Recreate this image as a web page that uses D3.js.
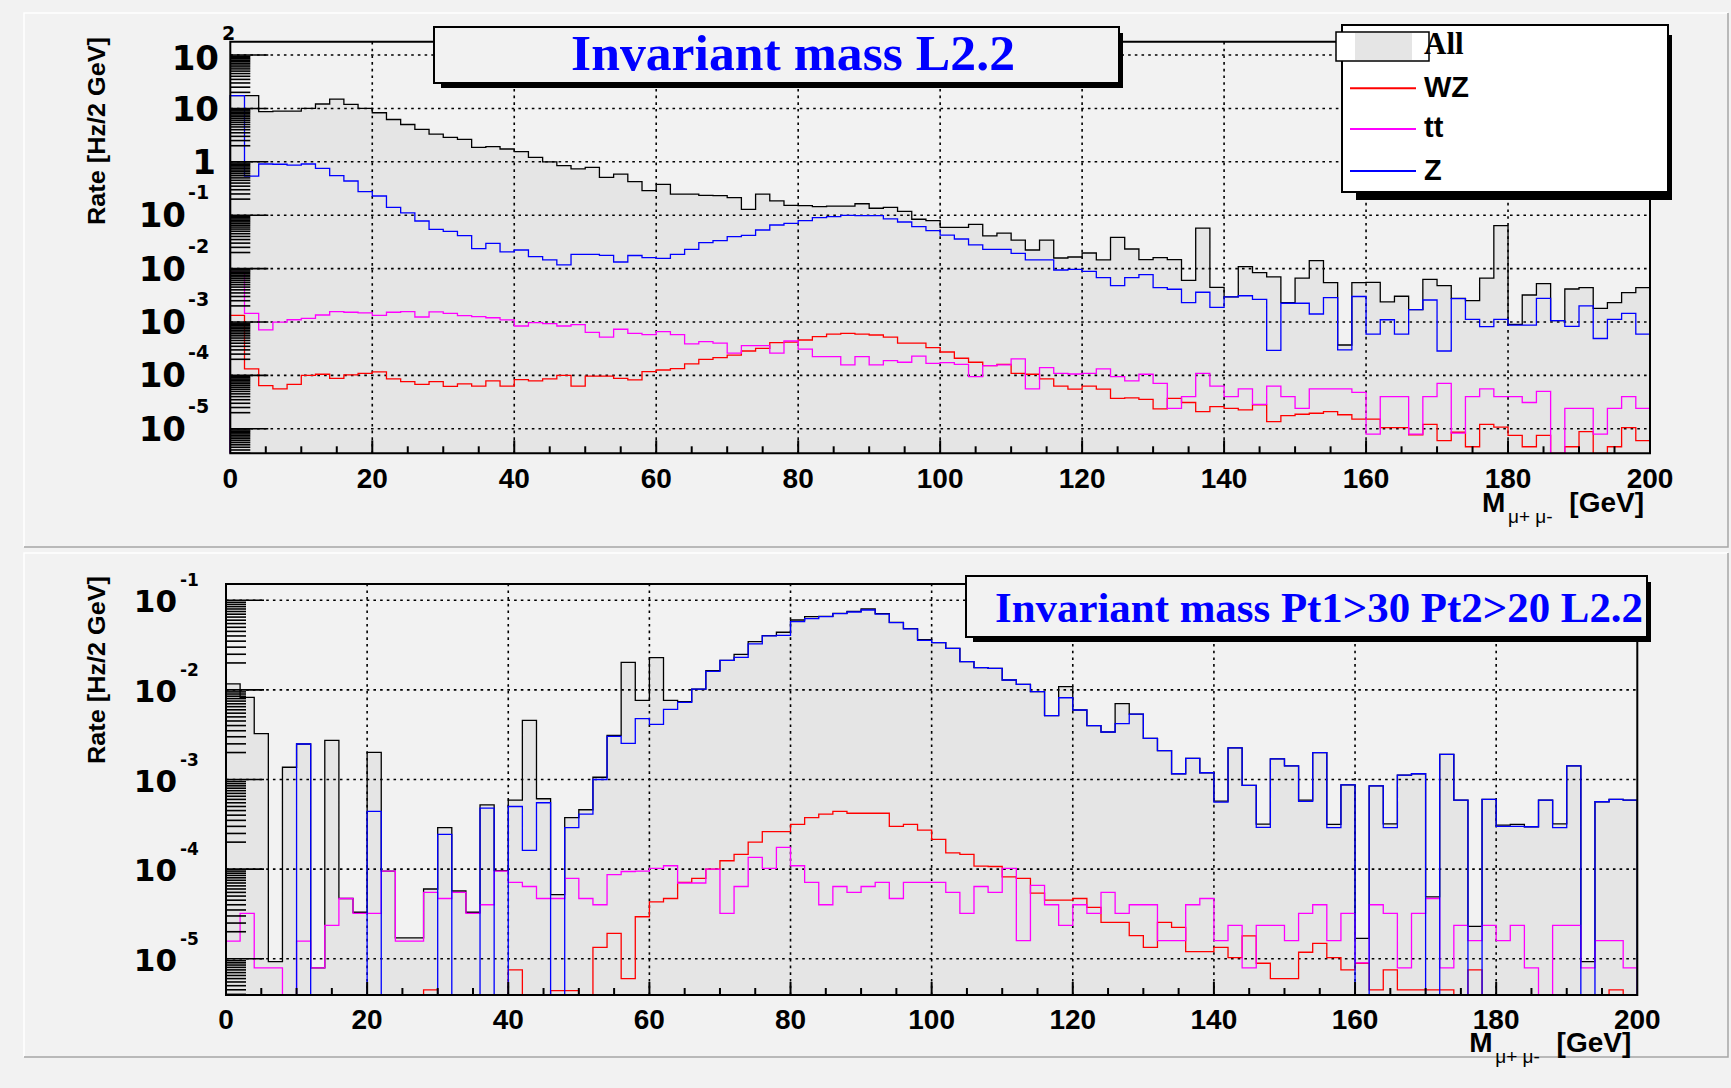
<!DOCTYPE html>
<html><head><meta charset="utf-8">
<script src="https://cdn.jsdelivr.net/npm/d3@7"></script>
<style>body{margin:0;background:#f2f2f2;}svg{display:block}</style>
</head><body><svg id="c" width="1731" height="1088"></svg>
<script>
// ---------- data ----------
const binLow = d3.range(0, 200, 2);              // lower edge of each 2 GeV bin
const xTickVals = [0,20,40,60,80,100,120,140,160,180,200];
const topDecades = [-5,-4,-3,-2,-1,0,1,2];
const botDecades = [-5,-4,-3,-2,-1];
const legendNames = ["All","WZ","tt","Z"];
const seriesColors = {All:"#000000", WZ:"#ff0000", tt:"#ff00ff", Z:"#0000ff"};
const topTitle = "Invariant mass L2.2";
const botTitle = "Invariant mass Pt1>30 Pt2>20 L2.2";
const yTitle = "Rate [Hz/2 GeV]";

const topAll = [17.3,17.3,8.7,8.9,8.9,10.0,12.1,15.0,11.9,10.0,8.3,6.2,5.0,4.06,3.3,2.87,2.64,1.87,1.92,1.74,1.55,1.21,1.0,0.85,0.74,
 0.79,0.51,0.59,0.425,0.288,0.378,0.249,0.249,0.235,0.233,0.213,0.129,0.249,0.185,0.153,0.151,0.145,0.148,0.148,0.164,0.135,0.140,0.118,0.084,0.079,
 0.059,0.059,0.0675,0.041,0.046,0.034,0.0223,0.034,0.0158,0.0165,0.0196,0.0145,0.0385,0.0233,0.0147,0.016,0.0147,0.0060,0.0575,0.00446,0.00294,0.0109,0.0084,0.0070,0.0023,
 0.0066,0.0141,0.00546,0.00037,0.00546,0.0055,0.00237,0.00303,0.0017,0.0063,0.00479,0.00277,0.00251,0.0066,0.0637,0.0009,0.0032,0.00523,0.00106,0.00415,0.0044,0.0018,0.0023,0.00354,0.0044];
const topZ = [17.3,0.54,0.91,0.90,0.87,0.91,0.755,0.55,0.437,0.276,0.229,0.140,0.111,0.0778,0.0543,0.0496,0.0414,0.0236,0.0297,0.0205,0.0223,0.0167,0.0145,0.0117,0.0185,
 0.0185,0.0177,0.0133,0.0176,0.016,0.0155,0.0185,0.023,0.0306,0.0334,0.0396,0.042,0.0528,0.0655,0.070,0.079,0.090,0.094,0.0995,0.098,0.098,0.085,0.0746,0.061,0.0513,
 0.0425,0.0358,0.0277,0.023,0.023,0.0193,0.0145,0.0145,0.0094,0.0097,0.0089,0.00676,0.00479,0.00676,0.00769,0.0044,0.0041,0.0023,0.0036,0.00188,0.00294,0.0031,0.00265,0.000294,0.00224,
 0.00224,0.00141,0.00286,0.0003,0.003,0.00059,0.0011,0.00059,0.0017,0.00258,0.000286,0.00274,0.00112,0.00082,0.00112,0.00087,0.00087,0.00277,0.00106,0.00083,0.002,0.00049,0.00112,0.00145,0.00059];
const topTT = [0.0085,0.00145,0.00071,0.00099,0.0011,0.00117,0.00135,0.00156,0.00152,0.00148,0.00133,0.00152,0.00156,0.00124,0.00154,0.00145,0.00132,0.00126,0.0012,0.00109,0.00084,0.00097,0.00093,0.00084,0.00089,
 6.4e-4,5.2e-4,7.3e-4,6.1e-4,5.8e-4,6.6e-4,5.8e-4,3.9e-4,4.3e-4,4.0e-4,2.6e-4,3.6e-4,3.6e-4,2.6e-4,4.4e-4,3.1e-4,2.25e-4,2.25e-4,1.57e-4,2.25e-4,1.57e-4,1.89e-4,1.76e-4,2.3e-4,1.68e-4,
 1.73e-4,1.61e-4,9.5e-5,1.52e-4,1.57e-4,2.03e-4,5.6e-5,1.40e-4,1.09e-4,1.06e-4,1.09e-4,1.32e-4,9.5e-5,7.9e-5,1.05e-4,7.1e-5,2.4e-5,4.0e-5,1.09e-4,6.3e-5,4.0e-5,5.6e-5,2.87e-5,6.3e-5,4.0e-5,
 2.4e-5,5.6e-5,5.6e-5,5.6e-5,4.8e-5,7.9e-6,4.0e-5,4.0e-5,7.9e-6,4.0e-5,7.1e-5,8.3e-6,4.0e-5,5.6e-5,4.0e-5,4.0e-5,3.1e-5,5.0e-5,0,2.4e-5,2.4e-5,7.9e-6,2.4e-5,4.0e-5,2.4e-5];
const topWZ = [0.00133,1.32e-4,6.4e-5,5.6e-5,6.8e-5,1.0e-4,1.05e-4,8.8e-5,1.02e-4,1.09e-4,1.16e-4,8.6e-5,7.6e-5,6.8e-5,7.6e-5,6.2e-5,6.9e-5,6.3e-5,7.9e-5,6.3e-5,8.3e-5,7.9e-5,8.6e-5,1.0e-4,6.3e-5,
 9.7e-5,9.7e-5,8.8e-5,8.2e-5,1.17e-4,1.26e-4,1.34e-4,1.64e-4,2.0e-4,2.15e-4,2.4e-4,2.86e-4,3.2e-4,4.1e-4,4.2e-4,4.6e-4,5.3e-4,5.9e-4,6.1e-4,5.9e-4,5.7e-4,5.2e-4,4.0e-4,4.0e-4,3.3e-4,
 2.74e-4,2.09e-4,1.76e-4,1.52e-4,1.61e-4,1.09e-4,1.05e-4,8.6e-5,6.3e-5,5.5e-5,6.3e-5,5.5e-5,3.7e-5,3.8e-5,3.56e-5,2.35e-5,3.7e-5,3.1e-5,2.1e-5,2.6e-5,2.4e-5,2.25e-5,2.8e-5,1.36e-5,1.76e-5,
 1.87e-5,1.95e-5,2.1e-5,1.83e-5,1.52e-5,1.52e-5,1.05e-5,1.05e-5,7.7e-6,1.21e-5,6.0e-6,8.6e-6,4.6e-6,1.21e-5,1.07e-5,7.5e-6,4.6e-6,7.5e-6,0,4.6e-6,8.8e-6,0,4.6e-6,1.05e-5,6.0e-6];

const botAll = [0.01165,0.00826,0.00325,9.3e-6,0.00137,0.00249,7.9e-6,0.00274,4.7e-5,3.3e-5,0.00201,9.5e-5,1.71e-5,1.71e-5,6.0e-5,2.9e-4,5.7e-5,3.3e-5,5.2e-4,9.6e-5,5.9e-4,0.00457,6.1e-4,5.2e-5,3.75e-4,
 4.6e-4,1.06e-3,3.11e-3,0.0203,7.66e-3,0.0229,7.66e-3,7.4e-3,0.0102,0.0164,0.0214,0.0249,0.0346,0.0404,0.044,0.0603,0.0657,0.0663,0.0716,0.0754,0.080,0.071,0.0568,0.0483,0.0364,
 0.0337,0.0291,0.0207,0.0177,0.0174,0.0129,0.0115,0.00955,0.00516,0.01086,0.00597,0.00399,0.00339,0.00703,0.00538,0.00288,0.0021,0.00116,0.00172,0.00119,5.75e-4,0.00226,8.6e-4,3.18e-4,0.0017,
 0.00142,5.9e-4,0.002,3.16e-4,8.7e-4,1.69e-5,8.5e-4,3.2e-4,0.00112,0.00116,4.9e-5,0.00191,5.9e-4,2.3e-5,6.0e-4,3.1e-4,3.16e-4,2.97e-4,5.9e-4,3.2e-4,0.00142,9.3e-6,5.65e-4,6.0e-4,5.9e-4];
const botZ = [0,0,0,0,0,0.00249,0,0,0,0,4.4e-4,0,0,0,0,2.44e-4,0,0,4.8e-4,0,5.0e-4,1.62e-4,5.5e-4,0,2.9e-4,
 4.1e-4,1.0e-3,3.03e-3,2.53e-3,4.78e-3,4.13e-3,6.07e-3,7.26e-3,0.0102,0.0161,0.0214,0.0231,0.0326,0.040,0.0406,0.0578,0.0624,0.0657,0.071,0.074,0.078,0.070,0.0564,0.048,0.0357,
 0.0337,0.0291,0.0207,0.0177,0.0174,0.0129,0.0115,0.00955,0.00516,0.00818,0.00597,0.00399,0.00339,0.0042,0.00538,0.00288,0.0021,0.00116,0.00172,0.00119,5.6e-4,0.00226,8.6e-4,2.92e-4,0.0017,
 0.00142,5.7e-4,0.002,2.9e-4,8.7e-4,0,8.5e-4,2.9e-4,0.00112,0.00116,0,0.00191,5.9e-4,0,6.0e-4,3.0e-4,3.0e-4,2.97e-4,5.9e-4,2.9e-4,0.00142,0,5.65e-4,6.0e-4,5.9e-4];
const botTT = [1.57e-5,3.2e-5,7.9e-6,7.9e-6,0,1.57e-5,7.9e-6,2.35e-5,4.7e-5,3.2e-5,3.2e-5,9.5e-5,1.57e-5,1.57e-5,5.5e-5,4.7e-5,5.5e-5,3.2e-5,4.0e-5,9.5e-5,7.1e-5,6.4e-5,4.7e-5,4.7e-5,7.9e-5,
 4.7e-5,4.0e-5,8.7e-5,9.4e-5,9.5e-5,1.02e-4,1.09e-4,7.0e-5,7.0e-5,1.0e-4,3.2e-5,6.4e-5,1.35e-4,1.02e-4,1.75e-4,1.09e-4,7.1e-5,4.0e-5,6.4e-5,5.5e-5,6.4e-5,7.1e-5,4.7e-5,7.1e-5,7.1e-5,
 7.1e-5,5.5e-5,3.2e-5,6.4e-5,5.5e-5,1.02e-4,1.59e-5,6.6e-5,4.0e-5,2.35e-5,4.0e-5,3.2e-5,5.5e-5,3.2e-5,4.0e-5,4.0e-5,1.59e-5,1.59e-5,4.0e-5,4.7e-5,1.59e-5,2.35e-5,7.9e-6,2.35e-5,2.35e-5,
 1.59e-5,3.2e-5,4.0e-5,1.59e-5,3.2e-5,9.0e-6,4.0e-5,3.2e-5,7.9e-6,3.2e-5,4.7e-5,7.9e-6,2.35e-5,1.59e-5,2.35e-5,1.59e-5,2.35e-5,7.9e-6,0,2.35e-5,2.35e-5,7.9e-6,1.59e-5,1.59e-5,7.9e-6];
const botWZ = [0,0,0,0,0,0,0,0,0,0,0,0,0,0,4.5e-6,0,0,0,0,0,7.5e-6,0,0,4.4e-6,4.4e-6,
 0,1.34e-5,1.92e-5,6.0e-6,2.94e-5,4.3e-5,4.7e-5,7.1e-5,7.9e-5,1.0e-4,1.24e-4,1.46e-4,2.0e-4,2.62e-4,2.62e-4,3.16e-4,3.75e-4,4.1e-4,4.4e-4,4.2e-4,4.2e-4,4.2e-4,3.0e-4,3.16e-4,2.73e-4,
 2.15e-4,1.52e-4,1.46e-4,1.08e-4,1.07e-4,8.2e-5,7.9e-5,5.4e-5,4.5e-5,4.5e-5,4.7e-5,3.74e-5,2.55e-5,2.55e-5,1.81e-5,1.34e-5,2.55e-5,2.24e-5,1.2e-5,1.2e-5,1.34e-5,1.03e-5,1.8e-5,8.9e-6,6.0e-6,
 6.0e-6,1.18e-5,1.48e-5,1.03e-5,7.5e-6,8.9e-6,4.5e-6,7.5e-6,4.5e-6,4.5e-6,4.5e-6,4.5e-6,0,7.5e-6,0,0,0,0,0,0,0,0,0,4.5e-6,0];

// ---------- drawing ----------
const W = 1731, H = 1088;
const SANS = "'Liberation Sans', Arial, Helvetica, sans-serif";
const DEJA = "'DejaVu Sans', sans-serif";
const SERIF = "'Liberation Serif', 'Times New Roman', serif";
const FILL = "#e5e5e5", BG = "#f2f2f2";
const svg = d3.select("#c");
svg.append("rect").attr("width", W).attr("height", H).attr("fill", BG);

const panels = [
  { pad:[24,13,1704,534], x0:230.3, x1:1650, yTop:41.7, yBot:453.3, lo:-5.46, hi:2.25,
    decades: topDecades, series:{All:topAll, WZ:topWZ, tt:topTT, Z:topZ},
    lab:{font:34, expFont:19, posEnd:219, negEnd:186, expGap:2, expUp:16},
    xLabBase:488, yTitleX:105, xTitleBase:511.7, yTitleC:131,
    title:{text:topTitle, box:[434,27,685,56], tx:571, ty:70, size:51, len:444} },
  { pad:[24,553,1704,504], x0:226, x1:1637.3, yTop:584, yBot:995, lo:-5.405, hi:-0.818,
    decades: botDecades, series:{All:botAll, WZ:botWZ, tt:botTT, Z:botZ},
    lab:{font:31, expFont:17, posEnd:177, negEnd:177, expGap:3, expUp:14},
    xLabBase:1029, yTitleX:105, xTitleBase:1052, yTitleC:670,
    title:{text:botTitle, box:[966,576,681,61], tx:995, ty:622, size:42, len:648} }
];

panels.forEach((P, pi) => {
  const g = svg.append("g");
  const [px, py, pw, ph] = P.pad;
  g.append("rect").attr("x", px).attr("y", py).attr("width", pw).attr("height", ph).attr("fill", BG);
  g.append("path").attr("d", `M${px},${py+ph}V${py}H${px+pw}`).attr("fill","none").attr("stroke","#ffffff").attr("stroke-width",1.5);
  g.append("path").attr("d", `M${px},${py+ph}H${px+pw}V${py}`).attr("fill","none").attr("stroke","#a6a6a6").attr("stroke-width",1.5);

  const x = d3.scaleLinear().domain([0, 200]).range([P.x0, P.x1]);
  const yMin = Math.pow(10, P.lo), yMax = Math.pow(10, P.hi);
  const y = d3.scaleLog().domain([yMin, yMax]).range([P.yBot, P.yTop]);
  const Y = v => (v > yMin ? Math.max(P.yTop, y(v)) : P.yBot);

  // step outline points (closed to the bottom at both ends)
  const pts = vals => {
    const p = [[x(0), P.yBot]];
    vals.forEach((v, i) => { p.push([x(binLow[i]), Y(v)]); p.push([x(binLow[i] + 2), Y(v)]); });
    p.push([x(200), P.yBot]);
    return p;
  };
  const line = d3.line();

  // filled "All"
  g.append("path").attr("d", line(pts(P.series.All)) + "Z").attr("fill", FILL).attr("stroke", "none");

  // grid
  const grid = g.append("g").attr("stroke", "#000").attr("stroke-width", 1.6).attr("stroke-dasharray", "2.6,4.1");
  xTickVals.filter(v => v > 0 && v < 200).forEach(v =>
    grid.append("line").attr("x1", x(v)).attr("x2", x(v)).attr("y1", P.yBot).attr("y2", P.yTop));
  P.decades.forEach(e =>
    grid.append("line").attr("x1", P.x0).attr("x2", P.x1).attr("y1", y(Math.pow(10, e))).attr("y2", y(Math.pow(10, e))));

  // histogram lines
  ["All","WZ","tt","Z"].forEach(k => {
    g.append("path").attr("d", line(pts(P.series[k]))).attr("fill","none")
      .attr("stroke", seriesColors[k]).attr("stroke-width", 1.3).attr("stroke-linejoin","miter");
  });

  // frame / axes
  g.append("path").attr("d", `M${P.x0},${P.yBot}V${P.yTop}H${P.x1}V${P.yBot}Z`).attr("fill","none").attr("stroke","#000").attr("stroke-width",2);

  // x ticks
  d3.range(0, 201, 5).forEach(v => {
    const len = v % 20 === 0 ? 13 : 7;
    if (v === 0 || v === 200) return;
    g.append("line").attr("x1", x(v)).attr("x2", x(v)).attr("y1", P.yBot).attr("y2", P.yBot - len).attr("stroke","#000").attr("stroke-width",2);
  });
  xTickVals.forEach(v => g.append("text").attr("x", x(v)).attr("y", P.xLabBase).attr("text-anchor","middle")
    .attr("font-family", SANS).attr("font-weight","bold").attr("font-size",28).text(v));

  // y ticks (log)
  for (let e = Math.floor(P.lo); e <= Math.ceil(P.hi); e++) {
    [1,2,2.5,3,3.5,4,4.5,5,5.5,6,6.5,7,7.5,8,8.5,9,9.5].forEach(k => {
      const v = k * Math.pow(10, e);
      if (v < yMin || v > yMax) return;
      const len = k === 1 ? 38 : 20;
      g.append("line").attr("x1", P.x0).attr("x2", P.x0 + len).attr("y1", y(v)).attr("y2", y(v)).attr("stroke","#000").attr("stroke-width",1.6);
    });
  }
  // y labels
  P.decades.forEach(e => {
    const gy = y(Math.pow(10, e));
    const t = (tx, ty, s, size, anchor) => g.append("text").attr("x", tx).attr("y", ty).attr("text-anchor", anchor)
      .attr("font-family", DEJA).attr("font-weight","bold").attr("font-size", size).text(s);
    if (e === 0) { t(P.lab.posEnd - 3, gy + 12, "1", P.lab.font, "end"); }
    else if (e === 1) { t(P.lab.posEnd, gy + 13, "10", P.lab.font, "end"); }
    else if (e > 1) { t(P.lab.posEnd, gy + 15, "10", P.lab.font, "end"); t(P.lab.posEnd + 3, gy - 15, String(e), P.lab.expFont, "start"); }
    else { t(P.lab.negEnd, gy + 12, "10", P.lab.font, "end"); t(P.lab.negEnd + P.lab.expGap, gy - P.lab.expUp, String(e), P.lab.expFont, "start"); }
  });

  // axis titles
  g.append("text").attr("transform", `translate(${P.yTitleX},${P.yTitleC}) rotate(-90)`).attr("text-anchor","middle")
    .attr("font-family", SANS).attr("font-weight","bold").attr("font-size",24)
    .attr("textLength",188).attr("lengthAdjust","spacingAndGlyphs").text(yTitle);
  g.append("text").attr("x", P.x1 - 168).attr("y", P.xTitleBase).attr("font-family", SANS).attr("font-weight","bold").attr("font-size",28).text("M");
  g.append("text").attr("x", P.x1 - 142).attr("y", P.xTitleBase + 11).attr("font-family", SANS).attr("font-size",19).text("\u03bc+ \u03bc-");
  g.append("text").attr("x", P.x1 - 6).attr("y", P.xTitleBase).attr("text-anchor","end").attr("font-family", SANS).attr("font-weight","bold").attr("font-size",28).text("[GeV]");

  // title box
  const [bx, by, bw, bh] = P.title.box;
  g.append("rect").attr("x", bx + 7).attr("y", by + 6).attr("width", bw - 3).attr("height", bh - 1).attr("fill", "#000");
  g.append("rect").attr("x", bx).attr("y", by).attr("width", bw).attr("height", bh).attr("fill", BG).attr("stroke","#000").attr("stroke-width",2);
  g.append("text").attr("x", P.title.tx).attr("y", P.title.ty).attr("font-family", SERIF).attr("font-weight","bold")
    .attr("font-size", P.title.size).attr("fill","#0000ff").attr("textLength", P.title.len).attr("lengthAdjust","spacingAndGlyphs").text(P.title.text);

  // legend (top panel)
  if (pi === 0) {
    const L = g.append("g");
    L.append("rect").attr("x", 1356).attr("y", 35).attr("width", 316).attr("height", 165).attr("fill","#000");
    L.append("rect").attr("x", 1342).attr("y", 25).attr("width", 326).attr("height", 167).attr("fill","#fff").attr("stroke","#000").attr("stroke-width",2);
    L.append("rect").attr("x", 1336).attr("y", 32).attr("width", 93).attr("height", 29).attr("fill","#fff").attr("stroke","#000").attr("stroke-width",1.5);
    L.append("rect").attr("x", 1355).attr("y", 33).attr("width", 57).attr("height", 27).attr("fill", FILL);
    L.append("text").attr("x", 1424).attr("y", 54).attr("font-family", SERIF).attr("font-weight","bold").attr("font-size",31).text(legendNames[0]);
    const rows = [{k:"WZ", ly:88.3, ty:96.5}, {k:"tt", ly:129, ty:137}, {k:"Z", ly:171, ty:179.5}];
    rows.forEach(r => {
      L.append("line").attr("x1", 1350).attr("x2", 1416).attr("y1", r.ly).attr("y2", r.ly).attr("stroke", seriesColors[r.k]).attr("stroke-width", 2);
      L.append("text").attr("x", 1424).attr("y", r.ty).attr("font-family", SANS).attr("font-weight","bold").attr("font-size",29).text(r.k);
    });
  }
});
</script></body></html>
